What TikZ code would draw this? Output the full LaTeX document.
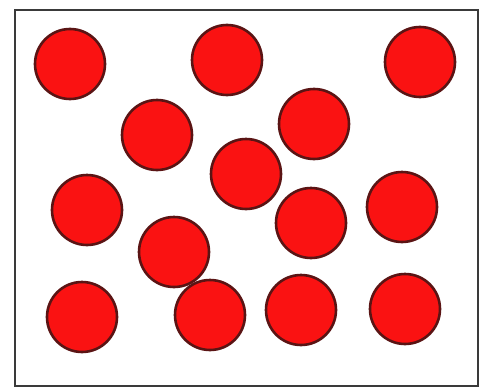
\documentclass[tikz,border=0pt]{standalone}
\begin{document}
\begin{tikzpicture}[x=1pt,y=-1pt,
  ball/.style={circle,draw=ballline,fill=ballred,line width=2.6pt,minimum size=70pt,inner sep=0pt}]
\definecolor{ballred}{HTML}{FA1212}
\definecolor{ballline}{HTML}{5A1414}
\definecolor{boxline}{HTML}{3A3A3A}
\useasboundingbox (0,0) rectangle (490,388);
\fill[white] (0,0) rectangle (490,388);
\draw[boxline,line width=2.5pt] (15,10) rectangle (478,386);
\node[ball] (c1) at (70,64) {};
\node[ball] (c2) at (227,60) {};
\node[ball] (c3) at (420,62) {};
\node[ball] (c4) at (157,135) {};
\node[ball] (c5) at (314,124) {};
\node[ball] (c6) at (246,174) {};
\node[ball] (c7) at (87,210) {};
\node[ball] (c8) at (311,223) {};
\node[ball] (c9) at (402,207) {};
\node[ball] (c10) at (174,252) {};
\node[ball] (c11) at (82,317) {};
\node[ball] (c12) at (210,315) {};
\node[ball] (c13) at (301,310) {};
\node[ball] (c14) at (405,309) {};
\end{tikzpicture}
\end{document}
